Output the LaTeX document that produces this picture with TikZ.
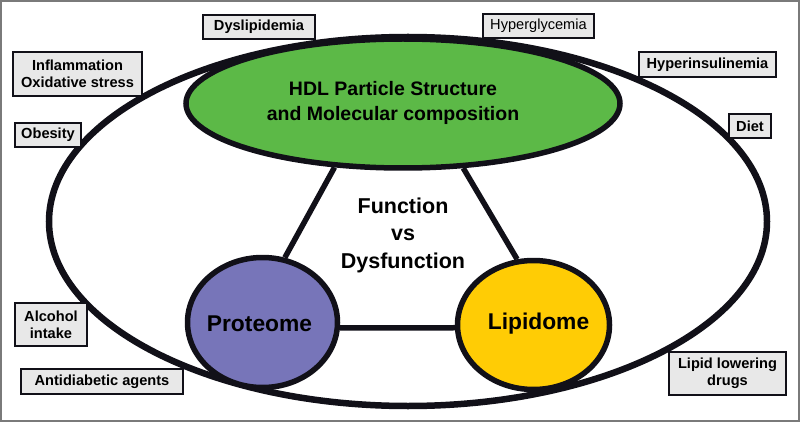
\documentclass[tikz,border=0pt]{standalone}
\usepackage{fontspec}
\setmainfont{Liberation Sans}
\usetikzlibrary{shapes.geometric}
\definecolor{ink}{HTML}{111018}
\definecolor{hdlgreen}{HTML}{5CB947}
\definecolor{protpurple}{HTML}{7775B9}
\definecolor{lipyellow}{HTML}{FFCC05}
\definecolor{tagfill}{HTML}{E8E8E8}
\definecolor{framegray}{HTML}{7A7A7A}
\begin{document}
\begin{tikzpicture}[x=1pt,y=-1pt,
  blob/.style={ellipse, draw=ink, line width=5.5pt, inner sep=0pt},
  link/.style={draw=ink, line width=5.5pt},
  tag/.style={draw=ink, line width=1.2pt, fill=tagfill, inner sep=0pt, align=center,
    font=\bfseries\fontsize{14.6}{17}\selectfont},
  bigtext/.style={align=center, inner sep=0pt}]
\useasboundingbox (0,0) rectangle (800,422);
\draw[framegray, line width=2pt] (1,1) rectangle (799,421);
% outer ellipse
\node[ellipse, draw=ink, line width=6.5pt, inner sep=0pt,
      minimum width=718pt, minimum height=369pt] (outer) at (408,221.5) {};
% inner ellipses
\node[blob, fill=hdlgreen, minimum width=434pt, minimum height=129pt] (hdl) at (403,103.5) {};
\node[blob, fill=protpurple, minimum width=150pt, minimum height=130pt] (prot) at (262.5,322.5) {};
\node[blob, fill=lipyellow, minimum width=152pt, minimum height=129pt] (lip) at (533.5,325) {};
% links
\draw[link] (hdl.223.5) -- (prot.71);
\draw[link] (hdl.313) -- (lip.104);
\draw[link] (prot.-4) -- (lip.182);
% texts
\node[bigtext, font=\bfseries\fontsize{19.5}{25}\selectfont] (hdltxt) at (393,102.5)
  {HDL Particle Structure\\and Molecular composition};
\node[bigtext, font=\bfseries\fontsize{21.5}{27.5}\selectfont] (func) at (403,235.2)
  {Function\\vs\\Dysfunction};
\node[bigtext, font=\bfseries\fontsize{22.8}{27}\selectfont] (prottxt) at (259.5,323.5) {Proteome};
\node[bigtext, font=\bfseries\fontsize{22.8}{27}\selectfont] (liptxt) at (538.5,323.5) {Lipidome};
% tags
\node[tag, minimum width=112pt, minimum height=24pt] (dys) at (259,27) {Dyslipidemia};
\node[tag, minimum width=111pt, minimum height=24pt, font=\fontsize{14.6}{17}\selectfont] (hgly) at (538.5,26) {Hyperglycemia};
\node[tag, minimum width=129pt, minimum height=44pt] (infl) at (77.5,74) {Inflammation\\Oxidative stress};
\node[tag, minimum width=66pt, minimum height=24pt] (obes) at (48,135) {Obesity};
\node[tag, minimum width=137pt, minimum height=25pt] (hins) at (707.5,64.5) {Hyperinsulinemia};
\node[tag, minimum width=42pt, minimum height=24pt] (diet) at (750,126) {Diet};
\node[tag, minimum width=72pt, minimum height=43pt] (alc) at (51,324.5) {Alcohol\\intake};
\node[tag, minimum width=162pt, minimum height=25pt] (anti) at (102,381.5) {Antidiabetic agents};
\node[tag, minimum width=117pt, minimum height=43pt] (lld) at (727.5,373.5) {Lipid lowering\\drugs};
\end{tikzpicture}
\end{document}
